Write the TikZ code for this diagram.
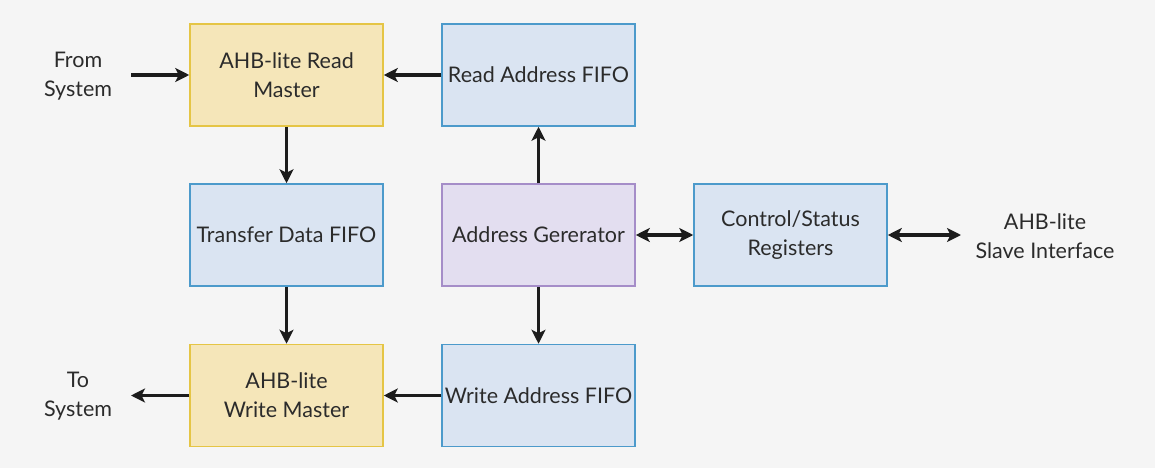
\documentclass[tikz,border=0pt]{standalone}
\usepackage{fontspec}
\setmainfont{Lato}
\usetikzlibrary{arrows.meta}
\definecolor{bg}{HTML}{F5F5F5}
\definecolor{yfill}{HTML}{F5E6B9}
\definecolor{ydraw}{HTML}{E5C545}
\definecolor{bfill}{HTML}{DAE4F2}
\definecolor{bdraw}{HTML}{4C9ACB}
\definecolor{pfill}{HTML}{E3DEF0}
\definecolor{pdraw}{HTML}{A58DC8}
\definecolor{txt}{HTML}{2B2B2B}
\definecolor{arr}{HTML}{1C1C1C}
\tikzset{
  box/.style={draw, line width=1.5pt, minimum width=193pt, minimum height=102pt, inner sep=0pt,
    align=center, text=txt, font=\fontsize{21.5}{29}\selectfont},
  ybox/.style={box, fill=yfill, draw=ydraw},
  bbox/.style={box, fill=bfill, draw=bdraw},
  pbox/.style={box, fill=pfill, draw=pdraw},
  lbl/.style={align=center, text=txt, font=\fontsize{21.5}{29}\selectfont, inner sep=0pt},
  conn/.style={line width=3.5pt, draw=arr, -{Stealth[length=14pt,width=14pt,inset=3.5pt]}},
  bconn/.style={line width=3.5pt, draw=arr, {Stealth[length=14pt,width=14pt,inset=3.5pt]}-{Stealth[length=14pt,width=14pt,inset=3.5pt]}}
}
\begin{document}
\begin{tikzpicture}[x=1pt,y=-1pt]
\fill[bg] (0,0) rectangle (1155,468);
\useasboundingbox (0,0) rectangle (1155,468);
\node[ybox] (rm) at (286.5,75) {AHB-lite Read\\Master};
\node[bbox] (raf) at (538.5,75) {Read Address FIFO};
\node[bbox] (tdf) at (286.5,235) {Transfer Data FIFO};
\node[pbox] (ag) at (538.5,235) {Address Gererator};
\node[bbox] (csr) at (790.5,235) {Control/Status\\Registers};
\node[ybox] (wm) at (286.5,395.5) {AHB-lite\\Write Master};
\node[bbox] (waf) at (538.5,395.5) {Write Address FIFO};
\node[lbl] (from) at (78,76) {From\\System};
\node[lbl] (to) at (78,396.5) {To\\System};
\node[lbl] (slave) at (1045,236) {AHB-lite\\Slave Interface};
\coordinate (fromE) at (131,75);
\coordinate (toE) at (131,395.5);
\coordinate (slaveW) at (961,235);
\draw[conn] (fromE) -- (rm.west);
\draw[conn] (raf.west) -- (rm.east);
\draw[conn] (rm.south) -- (tdf.north);
\draw[conn] (tdf.south) -- (wm.north);
\draw[conn] (ag.north) -- (raf.south);
\draw[conn] (ag.south) -- (waf.north);
\draw[bconn] (ag.east) -- (csr.west);
\draw[bconn] (csr.east) -- (slaveW);
\draw[conn] (waf.west) -- (wm.east);
\draw[conn] (wm.west) -- (toE);
\end{tikzpicture}
\end{document}
